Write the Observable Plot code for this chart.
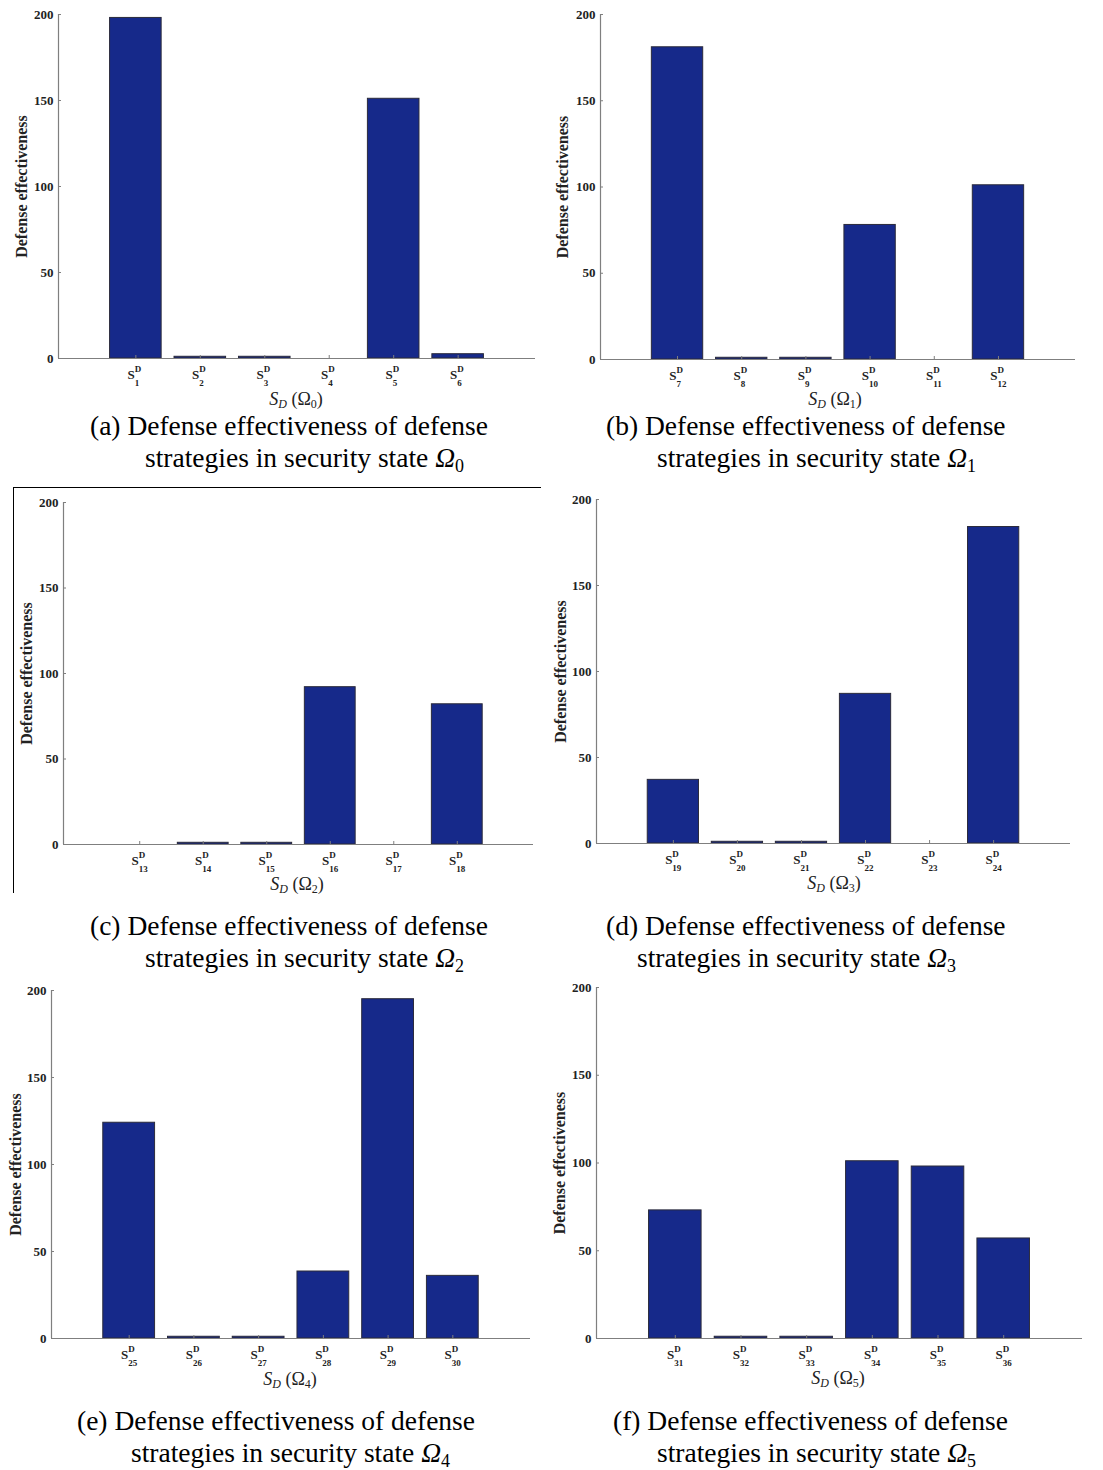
<!DOCTYPE html>
<html>
<head>
<meta charset="utf-8">
<script src="https://cdn.jsdelivr.net/npm/d3@7"></script>
<script src="https://cdn.jsdelivr.net/npm/@observablehq/plot@0.6"></script>
<style>
  body { margin: 0; background: #fff; }
  #page { position: relative; width: 1103px; height: 1470px; background: #fff; overflow: hidden;
          font-family: "Liberation Serif", "Times New Roman", serif; color: #000; }
  .panel { position: absolute; }
  .xl { position: absolute; font-size: 18px; line-height: 1; white-space: nowrap; transform: translate(-50%, -50%); color: #222; }
  .xl sub { font-size: 12px; vertical-align: -3px; line-height: 0; }
  .cap { position: absolute; font-size: 27.5px; line-height: 1; white-space: nowrap; transform: translateY(-50%); }
  .cap sub { font-size: 18px; vertical-align: -5px; line-height: 0; }
  .boxc { position: absolute; left: 13px; top: 487px; width: 527px; height: 405px;
          border-top: 1px solid #000; border-left: 1px solid #000; }
</style>
</head>
<body>
<div id="page"></div>
<script>
// ---------------- data ----------------
const panelLetters = ["a", "b", "c", "d", "e", "f"];
const stateIndices = [0, 1, 2, 3, 4, 5];
const strategiesA = [1, 2, 3, 4, 5, 6];
const strategiesB = [7, 8, 9, 10, 11, 12];
const strategiesC = [13, 14, 15, 16, 17, 18];
const strategiesD = [19, 20, 21, 22, 23, 24];
const strategiesE = [25, 26, 27, 28, 29, 30];
const strategiesF = [31, 32, 33, 34, 35, 36];
const valuesA = [198, 1, 1, 0, 151, 2.5];
const valuesB = [181, 1, 1, 78, 0, 101];
const valuesC = [0, 1, 1, 92, 0, 82];
const valuesD = [37, 1, 1, 87, 0, 184];
const valuesE = [124, 1, 1, 38.5, 195, 36];
const valuesF = [73, 1, 1, 101, 98, 57];
const yTicks = [0, 50, 100, 150, 200];
const yLabel = "Defense effectiveness";
const tickLetter = "S";
const tickSuperscript = "D";
const captionLine1 = "Defense effectiveness of defense";
const captionLine2 = "strategies in security state ";

const strategies = [strategiesA, strategiesB, strategiesC, strategiesD, strategiesE, strategiesF];
const values = [valuesA, valuesB, valuesC, valuesD, valuesE, valuesF];

// ---------------- layout ----------------
const layouts = [
  { left: 0,   top: 0,   w: 545, h: 410, ml: 58, mr: 10, mt: 14, mb: 52, ylx: 21, xl: [296, 399], c1: [90, 426],  c2: [145, 458] },
  { left: 545, top: 0,   w: 558, h: 410, ml: 55, mr: 28, mt: 14, mb: 51, ylx: 17, xl: [835, 399], c1: [606, 426], c2: [657, 458] },
  { left: 0,   top: 488, w: 545, h: 410, ml: 63, mr: 12, mt: 14, mb: 54, ylx: 26, xl: [297, 884], c1: [90, 926],  c2: [145, 958] },
  { left: 545, top: 488, w: 558, h: 410, ml: 51, mr: 33, mt: 11, mb: 55, ylx: 15, xl: [834, 883], c1: [606, 926], c2: [637, 958] },
  { left: 0,   top: 976, w: 545, h: 410, ml: 51, mr: 15, mt: 14, mb: 48, ylx: 15, xl: [290, 1379], c1: [77, 1421], c2: [131, 1453] },
  { left: 545, top: 976, w: 558, h: 410, ml: 51, mr: 21, mt: 11, mb: 48, ylx: 14, xl: [838, 1378], c1: [613, 1421], c2: [657, 1453] }
];

const page = document.getElementById("page");
const boxc = document.createElement("div");
boxc.className = "boxc";
page.appendChild(boxc);

const barFill = "#16298a";
const axisGray = "#7f7f7f";
const xDomain = [-0.2, 7.2];

panelLetters.forEach((letter, i) => {
  const L = layouts[i];
  const rows = strategies[i].map((n, k) => ({ pos: k + 1, n: String(n), v: values[i][k] }));
  const svg = Plot.plot({
    width: L.w, height: L.h,
    marginLeft: L.ml, marginRight: L.mr, marginTop: L.mt, marginBottom: L.mb,
    style: { fontFamily: "'Liberation Serif', 'Times New Roman', serif", fontSize: "13px", background: "transparent", color: "#222" },
    x: { domain: xDomain, axis: null },
    y: { domain: [0, 200], axis: null },
    marks: [
      Plot.rectY(rows.filter(d => d.v > 0), {
        x1: d => d.pos - 0.4, x2: d => d.pos + 0.4, y1: 0, y2: "v",
        fill: barFill, stroke: "#2b2b3b", strokeWidth: 1
      }),
      Plot.ruleY([0], { stroke: axisGray, strokeWidth: 1.2 }),
      Plot.ruleX([xDomain[0]], { stroke: axisGray, strokeWidth: 1.2 }),
      Plot.axisY({ ticks: yTicks, tickSize: -3, tickPadding: 8, stroke: axisGray, fontWeight: "bold", fontSize: 13, label: null }),
      Plot.axisX({ ticks: rows.map(d => d.pos), tickSize: -3, tickFormat: () => "", stroke: axisGray, label: null }),
      Plot.text([yLabel], { frameAnchor: "left", rotate: -90, textAnchor: "middle", lineAnchor: "middle", dx: -(L.ml - L.ylx), fontWeight: "bold", fontSize: 16, fill: "#222" }),
      Plot.text(rows, { x: "pos", y: 0, text: () => tickLetter, textAnchor: "end", dx: -1, dy: 16, fontWeight: "bold", fontSize: 13, fill: "#222" }),
      Plot.text(rows, { x: "pos", y: 0, text: () => tickSuperscript, textAnchor: "start", dx: -1, dy: 11, fontWeight: "bold", fontSize: 9, fill: "#222" }),
      Plot.text(rows, { x: "pos", y: 0, text: "n", textAnchor: "start", dx: -1, dy: 25, fontWeight: "bold", fontSize: 9, fill: "#222" })
    ]
  });
  const wrap = document.createElement("div");
  wrap.className = "panel";
  wrap.style.left = L.left + "px";
  wrap.style.top = L.top + "px";
  wrap.appendChild(svg);
  page.appendChild(wrap);

  const xl = document.createElement("div");
  xl.className = "xl";
  xl.style.left = L.xl[0] + "px";
  xl.style.top = L.xl[1] + "px";
  xl.innerHTML = `<i>S</i><sub><i>D</i></sub> (Ω<sub>${stateIndices[i]}</sub>)`;
  page.appendChild(xl);

  const c1 = document.createElement("div");
  c1.className = "cap";
  c1.style.left = L.c1[0] + "px";
  c1.style.top = L.c1[1] + "px";
  c1.textContent = `(${letter}) ${captionLine1}`;
  page.appendChild(c1);

  const c2 = document.createElement("div");
  c2.className = "cap";
  c2.style.left = L.c2[0] + "px";
  c2.style.top = L.c2[1] + "px";
  c2.innerHTML = `${captionLine2}<i>Ω</i><sub>${stateIndices[i]}</sub>`;
  page.appendChild(c2);
});
</script>
</body>
</html>
